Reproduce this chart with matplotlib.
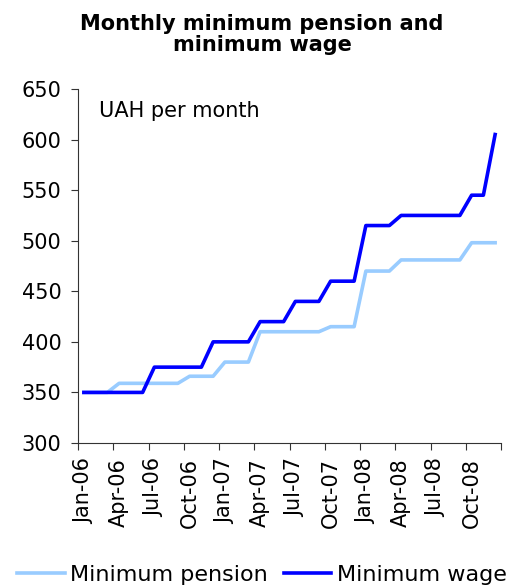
import matplotlib.pyplot as plt
import numpy as np

# monthly values, Jan-06 .. Dec-08 (UAH per month)
months = ['Jan-06', 'Feb-06', 'Mar-06', 'Apr-06', 'May-06', 'Jun-06',
          'Jul-06', 'Aug-06', 'Sep-06', 'Oct-06', 'Nov-06', 'Dec-06',
          'Jan-07', 'Feb-07', 'Mar-07', 'Apr-07', 'May-07', 'Jun-07',
          'Jul-07', 'Aug-07', 'Sep-07', 'Oct-07', 'Nov-07', 'Dec-07',
          'Jan-08', 'Feb-08', 'Mar-08', 'Apr-08', 'May-08', 'Jun-08',
          'Jul-08', 'Aug-08', 'Sep-08', 'Oct-08', 'Nov-08', 'Dec-08']
min_pension = [350, 350, 350, 359, 359, 359, 359, 359, 359, 366, 366, 366,
               380, 380, 380, 410, 410, 410, 410, 410, 410, 415, 415, 415,
               470, 470, 470, 481, 481, 481, 481, 481, 481, 498, 498, 498]
min_wage = [350, 350, 350, 350, 350, 350, 375, 375, 375, 375, 375, 400,
            400, 400, 400, 420, 420, 420, 440, 440, 440, 460, 460, 460,
            515, 515, 515, 525, 525, 525, 525, 525, 525, 545, 545, 605]

color_pension = '#99ccff'
color_wage = '#0000ff'

plt.rcParams['font.family'] = 'DejaVu Sans'

fig = plt.figure(figsize=(5.24, 5.87), dpi=100)
ax = fig.add_axes([78/524, 1 - 443/587, (501-78)/524, (443-89)/587])

x = np.arange(len(months))
ax.plot(x, min_pension, color=color_pension, linewidth=2.6, label='Minimum pension')
ax.plot(x, min_wage, color=color_wage, linewidth=2.6, label='Minimum wage')

ax.set_xlim(-0.5, len(months) - 0.5)
ax.set_ylim(300, 650)
ax.set_yticks(np.arange(300, 651, 50))

# labels at quarter months, tick marks between categories
ax.set_xticks(x[::3])
ax.set_xticklabels(months[::3], rotation=90)
ax.set_xticks(np.arange(-0.5, len(months), 3), minor=True)
ax.tick_params(axis='x', which='major', length=0, pad=11, labelsize=15)
ax.tick_params(axis='x', which='minor', length=5, width=0.8, color='#333333')
ax.tick_params(axis='y', labelsize=15, length=5, width=0.8, pad=7, color='#333333')

for s in ['top', 'right']:
    ax.spines[s].set_visible(False)
for s in ['left', 'bottom']:
    ax.spines[s].set_color('#333333')
    ax.spines[s].set_linewidth(0.8)

ax.text(0.05, 0.965, 'UAH per month', transform=ax.transAxes, fontsize=15, va='top')

fig.text(0.5, 1 - 14/587, 'Monthly minimum pension and\nminimum wage', ha='center', va='top',
         fontsize=15, fontweight='bold', linespacing=1.05)

fig.legend(loc='lower center', bbox_to_anchor=(0.5, -0.03), ncol=2, frameon=False,
           fontsize=16, handlelength=2.15, handletextpad=0.25, columnspacing=0.7)

fig.savefig('out.png', dpi=100)
